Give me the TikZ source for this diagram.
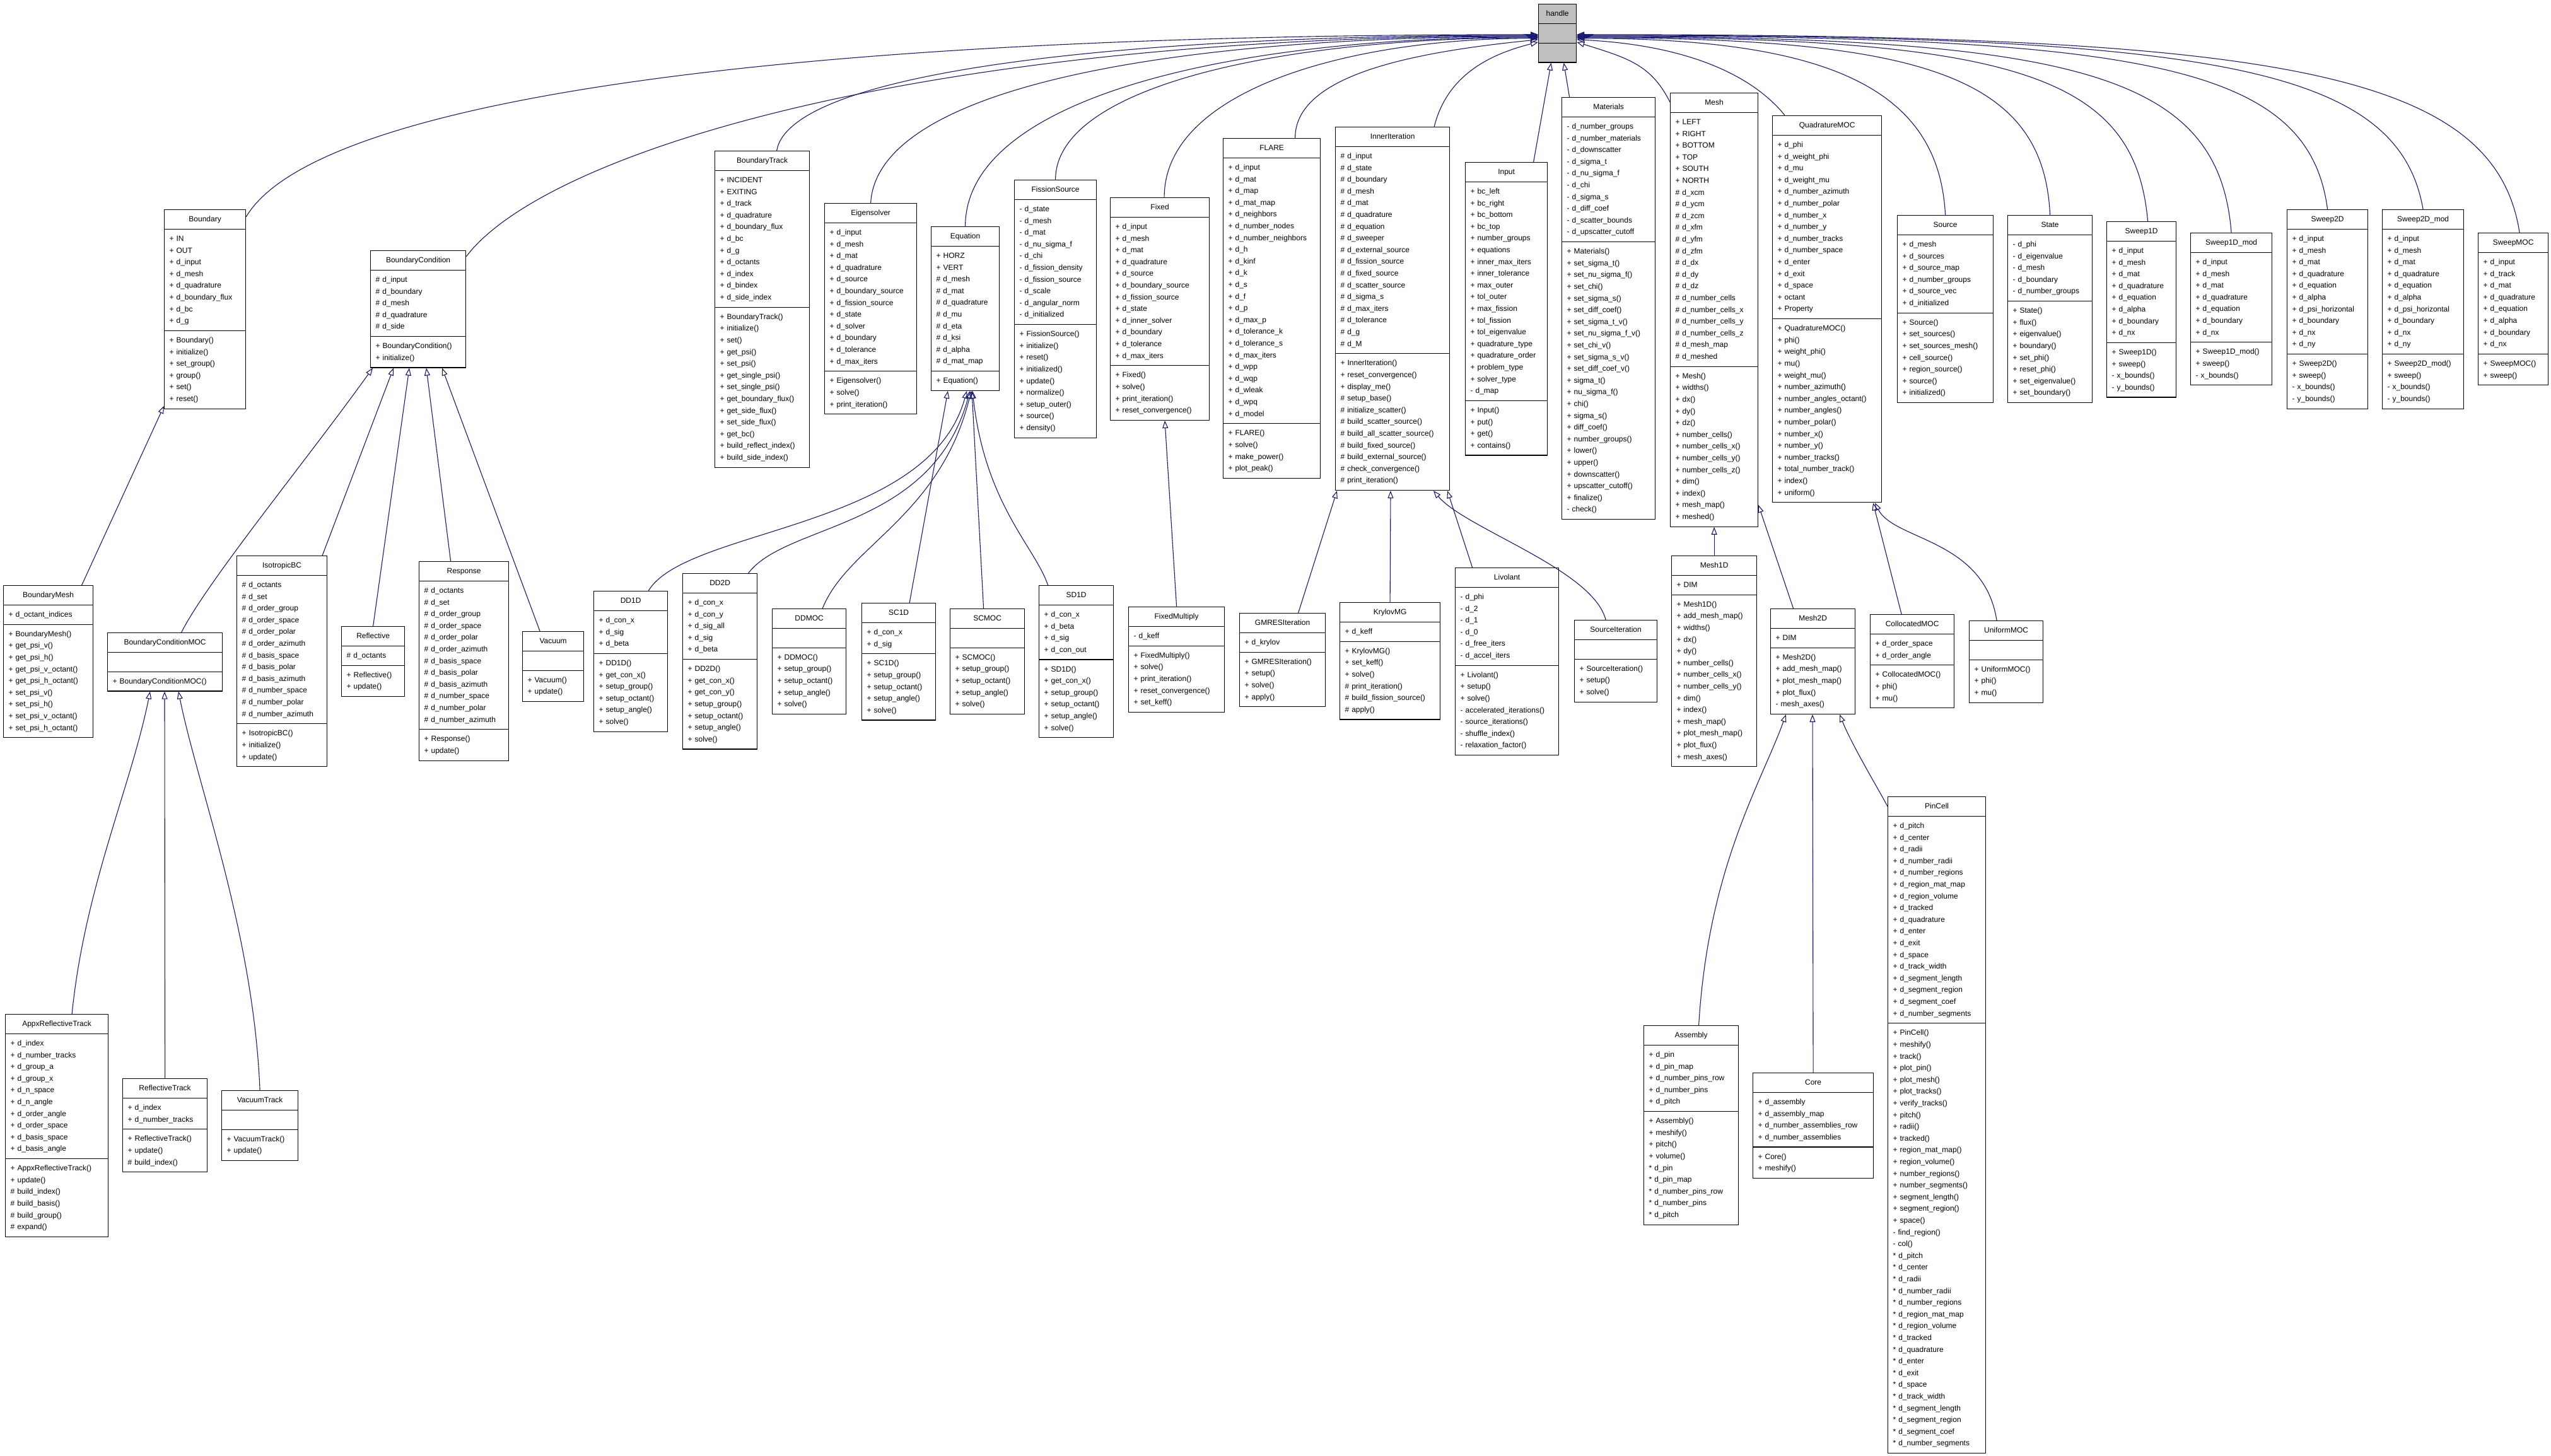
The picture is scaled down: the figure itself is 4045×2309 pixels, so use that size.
\documentclass[tikz,border=0pt]{standalone}
\usepackage{fontspec}
\setmainfont{Liberation Sans}
\usetikzlibrary{shapes.multipart,arrows.meta}
\definecolor{edge}{RGB}{25,25,112}
\definecolor{hgray}{RGB}{191,191,191}
\newcommand\Pp{+\ }
\newcommand\Pm{-\ }
\newcommand\Ph{\#\ }
\newcommand\Ps{*\ }
\newcommand\umlbox[8][]{%
  \pgfmathsetmacro\umltw{#5-16}%
  \node[cls,#1,text width=\umltw pt] (#2) at (#3,#4)
   {\strut\hspace*{\fill}#6\hspace*{\fill}\strut
    \nodepart{two}\strut#7\strut
    \nodepart{three}\strut#8\strut};}
\begin{document}
\catcode`\_=12
\begin{tikzpicture}[x=1pt,y=-1pt,
  cls/.style={draw,line width=1.2pt,fill=white,rectangle split,rectangle split parts=3,
    align=left,anchor=north west,inner xsep=8pt,inner ysep=5.5pt,
    font=\fontsize{12}{18.6}\selectfont},
  inh/.style={draw=edge,line width=1.1pt,-{Triangle[open,length=12pt,width=9pt]}}]
\useasboundingbox (0,0) rectangle (4045,2309);

\umlbox[fill=hgray]{handle}{2439}{6}{60}{handle}{}{}

\umlbox{Boundary}{260}{332}{129}{Boundary}{\Pp IN\\\Pp OUT\\\Pp d_input\\\Pp d_mesh\\\Pp d_quadrature\\\Pp d_boundary_flux\\\Pp d_bc\\\Pp d_g}{\Pp Boundary()\\\Pp initialize()\\\Pp set_group()\\\Pp group()\\\Pp set()\\\Pp reset()}
\umlbox{BCond}{587}{397}{151}{BoundaryCondition}{\Ph d_input\\\Ph d_boundary\\\Ph d_mesh\\\Ph d_quadrature\\\Ph d_side}{\Pp BoundaryCondition()\\\Pp initialize()}
\umlbox{BMesh}{5}{928}{142}{BoundaryMesh}{\Pp d_octant_indices}{\Pp BoundaryMesh()\\\Pp get_psi_v()\\\Pp get_psi_h()\\\Pp get_psi_v_octant()\\\Pp get_psi_h_octant()\\\Pp set_psi_v()\\\Pp set_psi_h()\\\Pp set_psi_v_octant()\\\Pp set_psi_h_octant()}
\umlbox{BCMOC}{170}{1003}{182}{BoundaryConditionMOC}{}{\Pp BoundaryConditionMOC()}
\umlbox{IsoBC}{375}{881}{143}{IsotropicBC}{\Ph d_octants\\\Ph d_set\\\Ph d_order_group\\\Ph d_order_space\\\Ph d_order_polar\\\Ph d_order_azimuth\\\Ph d_basis_space\\\Ph d_basis_polar\\\Ph d_basis_azimuth\\\Ph d_number_space\\\Ph d_number_polar\\\Ph d_number_azimuth}{\Pp IsotropicBC()\\\Pp initialize()\\\Pp update()}
\umlbox{Refl}{541}{993}{100}{Reflective}{\Ph d_octants}{\Pp Reflective()\\\Pp update()}
\umlbox{Resp}{664}{890}{142}{Response}{\Ph d_octants\\\Ph d_set\\\Ph d_order_group\\\Ph d_order_space\\\Ph d_order_polar\\\Ph d_order_azimuth\\\Ph d_basis_space\\\Ph d_basis_polar\\\Ph d_basis_azimuth\\\Ph d_number_space\\\Ph d_number_polar\\\Ph d_number_azimuth}{\Pp Response()\\\Pp update()}
\umlbox{Vac}{828}{1001}{97}{Vacuum}{}{\Pp Vacuum()\\\Pp update()}
\umlbox{Appx}{8}{1608}{163}{AppxReflectiveTrack}{\Pp d_index\\\Pp d_number_tracks\\\Pp d_group_a\\\Pp d_group_x\\\Pp d_n_space\\\Pp d_n_angle\\\Pp d_order_angle\\\Pp d_order_space\\\Pp d_basis_space\\\Pp d_basis_angle}{\Pp AppxReflectiveTrack()\\\Pp update()\\\Ph build_index()\\\Ph build_basis()\\\Ph build_group()\\\Ph expand()}
\umlbox{RefTr}{194}{1710}{134}{ReflectiveTrack}{\Pp d_index\\\Pp d_number_tracks}{\Pp ReflectiveTrack()\\\Pp update()\\\Ph build_index()}
\umlbox{VacTr}{351}{1729}{121}{VacuumTrack}{}{\Pp VacuumTrack()\\\Pp update()}

\umlbox{BTrack}{1133}{239}{150}{BoundaryTrack}{\Pp INCIDENT\\\Pp EXITING\\\Pp d_track\\\Pp d_quadrature\\\Pp d_boundary_flux\\\Pp d_bc\\\Pp d_g\\\Pp d_octants\\\Pp d_index\\\Pp d_bindex\\\Pp d_side_index}{\Pp BoundaryTrack()\\\Pp initialize()\\\Pp set()\\\Pp get_psi()\\\Pp set_psi()\\\Pp get_single_psi()\\\Pp set_single_psi()\\\Pp get_boundary_flux()\\\Pp get_side_flux()\\\Pp set_side_flux()\\\Pp get_bc()\\\Pp build_reflect_index()\\\Pp build_side_index()}
\umlbox{Eigen}{1307}{322}{146}{Eigensolver}{\Pp d_input\\\Pp d_mesh\\\Pp d_mat\\\Pp d_quadrature\\\Pp d_source\\\Pp d_boundary_source\\\Pp d_fission_source\\\Pp d_state\\\Pp d_solver\\\Pp d_boundary\\\Pp d_tolerance\\\Pp d_max_iters}{\Pp Eigensolver()\\\Pp solve()\\\Pp print_iteration()}
\umlbox{Equation}{1476}{359}{108}{Equation}{\Pp HORZ\\\Pp VERT\\\Ph d_mesh\\\Ph d_mat\\\Ph d_quadrature\\\Ph d_mu\\\Ph d_eta\\\Ph d_ksi\\\Ph d_alpha\\\Ph d_mat_map}{\Pp Equation()}
\umlbox{Fission}{1608}{285}{130}{FissionSource}{\Pm d_state\\\Pm d_mesh\\\Pm d_mat\\\Pm d_nu_sigma_f\\\Pm d_chi\\\Pm d_fission_density\\\Pm d_fission_source\\\Pm d_scale\\\Pm d_angular_norm\\\Pm d_initialized}{\Pp FissionSource()\\\Pp initialize()\\\Pp reset()\\\Pp initialized()\\\Pp update()\\\Pp normalize()\\\Pp setup_outer()\\\Pp source()\\\Pp density()}
\umlbox{Fixed}{1760}{313}{157}{Fixed}{\Pp d_input\\\Pp d_mesh\\\Pp d_mat\\\Pp d_quadrature\\\Pp d_source\\\Pp d_boundary_source\\\Pp d_fission_source\\\Pp d_state\\\Pp d_inner_solver\\\Pp d_boundary\\\Pp d_tolerance\\\Pp d_max_iters}{\Pp Fixed()\\\Pp solve()\\\Pp print_iteration()\\\Pp reset_convergence()}
\umlbox{DDoneD}{941}{937}{117}{DD1D}{\Pp d_con_x\\\Pp d_sig\\\Pp d_beta}{\Pp DD1D()\\\Pp get_con_x()\\\Pp setup_group()\\\Pp setup_octant()\\\Pp setup_angle()\\\Pp solve()}
\umlbox{DDtwoD}{1082}{909}{118}{DD2D}{\Pp d_con_x\\\Pp d_con_y\\\Pp d_sig_all\\\Pp d_sig\\\Pp d_beta}{\Pp DD2D()\\\Pp get_con_x()\\\Pp get_con_y()\\\Pp setup_group()\\\Pp setup_octant()\\\Pp setup_angle()\\\Pp solve()}
\umlbox{DDMOC}{1224}{965}{117}{DDMOC}{}{\Pp DDMOC()\\\Pp setup_group()\\\Pp setup_octant()\\\Pp setup_angle()\\\Pp solve()}
\umlbox{SConeD}{1366}{956}{117}{SC1D}{\Pp d_con_x\\\Pp d_sig}{\Pp SC1D()\\\Pp setup_group()\\\Pp setup_octant()\\\Pp setup_angle()\\\Pp solve()}
\umlbox{SCMOC}{1506}{965}{118}{SCMOC}{}{\Pp SCMOC()\\\Pp setup_group()\\\Pp setup_octant()\\\Pp setup_angle()\\\Pp solve()}
\umlbox{SDoneD}{1647}{928}{118}{SD1D}{\Pp d_con_x\\\Pp d_beta\\\Pp d_sig\\\Pp d_con_out}{\Pp SD1D()\\\Pp get_con_x()\\\Pp setup_group()\\\Pp setup_octant()\\\Pp setup_angle()\\\Pp solve()}
\umlbox{FixMul}{1789}{962}{152}{FixedMultiply}{\Pm d_keff}{\Pp FixedMultiply()\\\Pp solve()\\\Pp print_iteration()\\\Pp reset_convergence()\\\Pp set_keff()}

\umlbox{FLARE}{1939}{219}{154}{FLARE}{\Pp d_input\\\Pp d_mat\\\Pp d_map\\\Pp d_mat_map\\\Pp d_neighbors\\\Pp d_number_nodes\\\Pp d_number_neighbors\\\Pp d_h\\\Pp d_kinf\\\Pp d_k\\\Pp d_s\\\Pp d_f\\\Pp d_p\\\Pp d_max_p\\\Pp d_tolerance_k\\\Pp d_tolerance_s\\\Pp d_max_iters\\\Pp d_wpp\\\Pp d_wqp\\\Pp d_wleak\\\Pp d_wpq\\\Pp d_model}{\Pp FLARE()\\\Pp solve()\\\Pp make_power()\\\Pp plot_peak()}
\umlbox{Inner}{2117}{201}{181}{InnerIteration}{\Ph d_input\\\Ph d_state\\\Ph d_boundary\\\Ph d_mesh\\\Ph d_mat\\\Ph d_quadrature\\\Ph d_equation\\\Ph d_sweeper\\\Ph d_external_source\\\Ph d_fission_source\\\Ph d_fixed_source\\\Ph d_scatter_source\\\Ph d_sigma_s\\\Ph d_max_iters\\\Ph d_tolerance\\\Ph d_g\\\Ph d_M}{\Pp InnerIteration()\\\Pp reset_convergence()\\\Pp display_me()\\\Ph setup_base()\\\Ph initialize_scatter()\\\Ph build_scatter_source()\\\Ph build_all_scatter_source()\\\Ph build_fixed_source()\\\Ph build_external_source()\\\Ph check_convergence()\\\Ph print_iteration()}
\umlbox{Input}{2323}{257}{130}{Input}{\Pp bc_left\\\Pp bc_right\\\Pp bc_bottom\\\Pp bc_top\\\Pp number_groups\\\Pp equations\\\Pp inner_max_iters\\\Pp inner_tolerance\\\Pp max_outer\\\Pp tol_outer\\\Pp max_fission\\\Pp tol_fission\\\Pp tol_eigenvalue\\\Pp quadrature_type\\\Pp quadrature_order\\\Pp problem_type\\\Pp solver_type\\\Pm d_map}{\Pp Input()\\\Pp put()\\\Pp get()\\\Pp contains()}
\umlbox{Materials}{2476}{154}{148}{Materials}{\Pm d_number_groups\\\Pm d_number_materials\\\Pm d_downscatter\\\Pm d_sigma_t\\\Pm d_nu_sigma_f\\\Pm d_chi\\\Pm d_sigma_s\\\Pm d_diff_coef\\\Pm d_scatter_bounds\\\Pm d_upscatter_cutoff}{\Pp Materials()\\\Pp set_sigma_t()\\\Pp set_nu_sigma_f()\\\Pp set_chi()\\\Pp set_sigma_s()\\\Pp set_diff_coef()\\\Pp set_sigma_t_v()\\\Pp set_nu_sigma_f_v()\\\Pp set_chi_v()\\\Pp set_sigma_s_v()\\\Pp set_diff_coef_v()\\\Pp sigma_t()\\\Pp nu_sigma_f()\\\Pp chi()\\\Pp sigma_s()\\\Pp diff_coef()\\\Pp number_groups()\\\Pp lower()\\\Pp upper()\\\Pp downscatter()\\\Pp upscatter_cutoff()\\\Pp finalize()\\\Pm check()}
\umlbox{Mesh}{2648}{147}{139}{Mesh}{\Pp LEFT\\\Pp RIGHT\\\Pp BOTTOM\\\Pp TOP\\\Pp SOUTH\\\Pp NORTH\\\Ph d_xcm\\\Ph d_ycm\\\Ph d_zcm\\\Ph d_xfm\\\Ph d_yfm\\\Ph d_zfm\\\Ph d_dx\\\Ph d_dy\\\Ph d_dz\\\Ph d_number_cells\\\Ph d_number_cells_x\\\Ph d_number_cells_y\\\Ph d_number_cells_z\\\Ph d_mesh_map\\\Ph d_meshed}{\Pp Mesh()\\\Pp widths()\\\Pp dx()\\\Pp dy()\\\Pp dz()\\\Pp number_cells()\\\Pp number_cells_x()\\\Pp number_cells_y()\\\Pp number_cells_z()\\\Pp dim()\\\Pp index()\\\Pp mesh_map()\\\Pp meshed()}
\umlbox{GMRES}{1965}{972}{136}{GMRESIteration}{\Pp d_krylov}{\Pp GMRESIteration()\\\Pp setup()\\\Pp solve()\\\Pp apply()}
\umlbox{Krylov}{2124}{955}{159}{KrylovMG}{\Pp d_keff}{\Pp KrylovMG()\\\Pp set_keff()\\\Pp solve()\\\Ph print_iteration()\\\Ph build_fission_source()\\\Ph apply()}
\umlbox{Livolant}{2307}{900}{164}{Livolant}{\Pm d_phi\\\Pm d_2\\\Pm d_1\\\Pm d_0\\\Pm d_free_iters\\\Pm d_accel_iters}{\Pp Livolant()\\\Pp setup()\\\Pp solve()\\\Pm accelerated_iterations()\\\Pm source_iterations()\\\Pm shuffle_index()\\\Pm relaxation_factor()}
\umlbox{SrcIt}{2496}{983}{131}{SourceIteration}{}{\Pp SourceIteration()\\\Pp setup()\\\Pp solve()}
\umlbox{MeshoneD}{2650}{881}{135}{Mesh1D}{\Pp DIM}{\Pp Mesh1D()\\\Pp add_mesh_map()\\\Pp widths()\\\Pp dx()\\\Pp dy()\\\Pp number_cells()\\\Pp number_cells_x()\\\Pp number_cells_y()\\\Pp dim()\\\Pp index()\\\Pp mesh_map()\\\Pp plot_mesh_map()\\\Pp plot_flux()\\\Pp mesh_axes()}

\umlbox{Quad}{2810}{183}{173}{QuadratureMOC}{\Pp d_phi\\\Pp d_weight_phi\\\Pp d_mu\\\Pp d_weight_mu\\\Pp d_number_azimuth\\\Pp d_number_polar\\\Pp d_number_x\\\Pp d_number_y\\\Pp d_number_tracks\\\Pp d_number_space\\\Pp d_enter\\\Pp d_exit\\\Pp d_space\\\Pp octant\\\Pp Property}{\Pp QuadratureMOC()\\\Pp phi()\\\Pp weight_phi()\\\Pp mu()\\\Pp weight_mu()\\\Pp number_azimuth()\\\Pp number_angles_octant()\\\Pp number_angles()\\\Pp number_polar()\\\Pp number_x()\\\Pp number_y()\\\Pp number_tracks()\\\Pp total_number_track()\\\Pp index()\\\Pp uniform()}
\umlbox{Source}{3008}{341}{152}{Source}{\Pp d_mesh\\\Pp d_sources\\\Pp d_source_map\\\Pp d_number_groups\\\Pp d_source_vec\\\Pp d_initialized}{\Pp Source()\\\Pp set_sources()\\\Pp set_sources_mesh()\\\Pp cell_source()\\\Pp region_source()\\\Pp source()\\\Pp initialized()}
\umlbox{State}{3183}{341}{134}{State}{\Pm d_phi\\\Pm d_eigenvalue\\\Pm d_mesh\\\Pm d_boundary\\\Pm d_number_groups}{\Pp State()\\\Pp flux()\\\Pp eigenvalue()\\\Pp boundary()\\\Pp set_phi()\\\Pp reset_phi()\\\Pp set_eigenvalue()\\\Pp set_boundary()}
\umlbox{Swone}{3340}{351}{110}{Sweep1D}{\Pp d_input\\\Pp d_mesh\\\Pp d_mat\\\Pp d_quadrature\\\Pp d_equation\\\Pp d_alpha\\\Pp d_boundary\\\Pp d_nx}{\Pp Sweep1D()\\\Pp sweep()\\\Pm x_bounds()\\\Pm y_bounds()}
\umlbox{Swonem}{3473}{369}{129}{Sweep1D_mod}{\Pp d_input\\\Pp d_mesh\\\Pp d_mat\\\Pp d_quadrature\\\Pp d_equation\\\Pp d_boundary\\\Pp d_nx}{\Pp Sweep1D_mod()\\\Pp sweep()\\\Pm x_bounds()}
\umlbox{Swtwo}{3626}{332}{128}{Sweep2D}{\Pp d_input\\\Pp d_mesh\\\Pp d_mat\\\Pp d_quadrature\\\Pp d_equation\\\Pp d_alpha\\\Pp d_psi_horizontal\\\Pp d_boundary\\\Pp d_nx\\\Pp d_ny}{\Pp Sweep2D()\\\Pp sweep()\\\Pm x_bounds()\\\Pm y_bounds()}
\umlbox{Swtwom}{3777}{332}{129}{Sweep2D_mod}{\Pp d_input\\\Pp d_mesh\\\Pp d_mat\\\Pp d_quadrature\\\Pp d_equation\\\Pp d_alpha\\\Pp d_psi_horizontal\\\Pp d_boundary\\\Pp d_nx\\\Pp d_ny}{\Pp Sweep2D_mod()\\\Pp sweep()\\\Pm x_bounds()\\\Pm y_bounds()}
\umlbox{SwMOC}{3929}{369}{111}{SweepMOC}{\Pp d_input\\\Pp d_track\\\Pp d_mat\\\Pp d_quadrature\\\Pp d_equation\\\Pp d_alpha\\\Pp d_boundary\\\Pp d_nx}{\Pp SweepMOC()\\\Pp sweep()}
\umlbox{MeshtwoD}{2807}{965}{134}{Mesh2D}{\Pp DIM}{\Pp Mesh2D()\\\Pp add_mesh_map()\\\Pp plot_mesh_map()\\\Pp plot_flux()\\\Pm mesh_axes()}
\umlbox{Coll}{2965}{974}{133}{CollocatedMOC}{\Pp d_order_space\\\Pp d_order_angle}{\Pp CollocatedMOC()\\\Pp phi()\\\Pp mu()}
\umlbox{Unif}{3122}{984}{117}{UniformMOC}{}{\Pp UniformMOC()\\\Pp phi()\\\Pp mu()}
\umlbox{Assembly}{2606}{1626}{150}{Assembly}{\Pp d_pin\\\Pp d_pin_map\\\Pp d_number_pins_row\\\Pp d_number_pins\\\Pp d_pitch}{\Pp Assembly()\\\Pp meshify()\\\Pp pitch()\\\Pp volume()\\\Ps d_pin\\\Ps d_pin_map\\\Ps d_number_pins_row\\\Ps d_number_pins\\\Ps d_pitch}
\umlbox{Core}{2779}{1701}{191}{Core}{\Pp d_assembly\\\Pp d_assembly_map\\\Pp d_number_assemblies_row\\\Pp d_number_assemblies}{\Pp Core()\\\Pp meshify()}
\umlbox{PinCell}{2993}{1263}{155}{PinCell}{\Pp d_pitch\\\Pp d_center\\\Pp d_radii\\\Pp d_number_radii\\\Pp d_number_regions\\\Pp d_region_mat_map\\\Pp d_region_volume\\\Pp d_tracked\\\Pp d_quadrature\\\Pp d_enter\\\Pp d_exit\\\Pp d_space\\\Pp d_track_width\\\Pp d_segment_length\\\Pp d_segment_region\\\Pp d_segment_coef\\\Pp d_number_segments}{\Pp PinCell()\\\Pp meshify()\\\Pp track()\\\Pp plot_pin()\\\Pp plot_mesh()\\\Pp plot_tracks()\\\Pp verify_tracks()\\\Pp pitch()\\\Pp radii()\\\Pp tracked()\\\Pp region_mat_map()\\\Pp region_volume()\\\Pp number_regions()\\\Pp number_segments()\\\Pp segment_length()\\\Pp segment_region()\\\Pp space()\\\Pm find_region()\\\Pm col()\\\Ps d_pitch\\\Ps d_center\\\Ps d_radii\\\Ps d_number_radii\\\Ps d_number_regions\\\Ps d_region_mat_map\\\Ps d_region_volume\\\Ps d_tracked\\\Ps d_quadrature\\\Ps d_enter\\\Ps d_exit\\\Ps d_space\\\Ps d_track_width\\\Ps d_segment_length\\\Ps d_segment_region\\\Ps d_segment_coef\\\Ps d_number_segments}

% --- inheritance to handle (left side)
\draw[inh] ([yshift=-12pt]Boundary.north east) .. controls +(100,-170) and +(-1300,0) .. ([yshift=-2pt]handle.west);
\draw[inh] ([yshift=-10pt]BCond.north east) .. controls +(120,-160) and +(-1000,0) .. ([yshift=-4pt]handle.west);
\draw[inh] ([xshift=23pt]BTrack.north) .. controls +(20,-120) and +(-700,0) .. ([yshift=-3pt]handle.west);
\draw[inh] (Eigen.north) .. controls +(10,-180) and +(-600,0) .. ([yshift=-5pt]handle.west);
\draw[inh] (Equation.north) .. controls +(0,-200) and +(-500,0) .. ([yshift=-6pt]handle.west);
\draw[inh] (Fission.north) .. controls +(0,-150) and +(-400,0) .. ([yshift=-7pt]handle.west);
\draw[inh] ([xshift=7pt]Fixed.north) .. controls +(0,-170) and +(-300,0) .. ([yshift=-8pt]handle.west);
\draw[inh] ([xshift=37pt]FLARE.north) .. controls +(0,-100) and +(-200,20) .. ([yshift=-10pt]handle.west);
\draw[inh] ([xshift=66pt]Inner.north) .. controls +(20,-80) and +(-80,20) .. ([yshift=-14pt]handle.west);
\draw[inh] ([xshift=43pt]Input.north) -- ([xshift=-10pt]handle.south);
\draw[inh] ([xshift=-62pt]Materials.north) -- ([xshift=10pt]handle.south);
% --- inheritance to handle (right side)
\draw[inh] ([yshift=-15pt]Mesh.north west) .. controls +(-30,-60) and +(80,25) .. ([yshift=-14pt]handle.east);
\draw[inh] ([xshift=-67pt]Quad.north) .. controls +(-40,-50) and +(200,10) .. ([yshift=-10pt]handle.east);
\draw[inh] (Source.north) .. controls +(-10,-200) and +(400,0) .. ([yshift=-8pt]handle.east);
\draw[inh] (State.north) .. controls +(-10,-220) and +(550,0) .. ([yshift=-7pt]handle.east);
\draw[inh] ([xshift=10pt]Swone.north) .. controls +(-20,-230) and +(700,0) .. ([yshift=-6pt]handle.east);
\draw[inh] (Swonem.north) .. controls +(-20,-250) and +(800,0) .. ([yshift=-5pt]handle.east);
\draw[inh] (Swtwo.north) .. controls +(-30,-230) and +(900,0) .. ([yshift=-4pt]handle.east);
\draw[inh] (Swtwom.north) .. controls +(-40,-230) and +(1000,0) .. ([yshift=-3pt]handle.east);
\draw[inh] ([xshift=10pt]SwMOC.north) .. controls +(-40,-260) and +(1100,0) .. ([yshift=-2pt]handle.east);

% --- boundary family
\draw[inh] ([xshift=53pt]BMesh.north) -- ([yshift=5pt]Boundary.south west);
\draw[inh] ([xshift=26pt]BCMOC.north) .. controls +(40,-80) and +(-100,140) .. ([xshift=4pt]BCond.south west);
\draw[inh] ([xshift=64pt]IsoBC.north) -- ([xshift=37pt]BCond.south west);
\draw[inh] (Refl.north) -- ([xshift=62pt]BCond.south west);
\draw[inh] ([xshift=-21pt]Resp.north) -- ([xshift=89pt]BCond.south west);
\draw[inh] ([xshift=-21pt]Vac.north) -- ([xshift=114pt]BCond.south west);
\draw[inh] ([xshift=24pt]Appx.north) .. controls +(20,-200) and +(-30,150) .. ([xshift=68pt]BCMOC.south west);
\draw[inh] (RefTr.north) -- ([xshift=91pt]BCMOC.south west);
\draw[inh] (VacTr.north) .. controls +(-10,-250) and +(30,150) .. ([xshift=113pt]BCMOC.south west);

% --- equation family
\draw[inh] ([xshift=17pt]SConeD.north) -- ([xshift=27pt]Equation.south west);
\draw[inh] ([xshift=28pt]DDoneD.north) .. controls +(60,-100) and +(-60,220) .. ([xshift=57pt]Equation.south west);
\draw[inh] ([xshift=45pt]DDtwoD.north) .. controls +(60,-80) and +(-60,220) .. ([xshift=62pt]Equation.south west);
\draw[inh] ([xshift=21pt]DDMOC.north) .. controls +(40,-100) and +(-50,200) .. ([xshift=64pt]Equation.south west);
\draw[inh] ([xshift=-6pt]SCMOC.north) -- ([xshift=65pt]Equation.south west);
\draw[inh] ([xshift=-45pt]SDoneD.north) .. controls +(-20,-60) and +(20,180) .. ([xshift=66pt]Equation.south west);
\draw[inh] (FixMul.north) -- ([xshift=87pt]Fixed.south west);

% --- inner iteration family
\draw[inh] ([xshift=25pt]GMRES.north) -- ([xshift=3pt]Inner.south west);
\draw[inh] (Krylov.north) -- ([xshift=88pt]Inner.south west);
\draw[inh] ([xshift=-55pt]Livolant.north) -- ([xshift=178pt]Inner.south west);
\draw[inh] ([xshift=-16pt]SrcIt.north) .. controls +(-20,-80) and +(50,60) .. ([xshift=156pt]Inner.south west);

% --- mesh family
\draw[inh] (MeshoneD.north) -- (Mesh.south);
\draw[inh] ([xshift=-31pt]MeshtwoD.north) -- ([yshift=35pt]Mesh.south east);
\draw[inh] ([xshift=12pt]Assembly.north) .. controls +(15,-250) and +(-40,110) .. ([xshift=25pt]MeshtwoD.south west);
\draw[inh] (Core.north) -- ([xshift=67pt]MeshtwoD.south west);
\draw[inh] ([yshift=-16pt]PinCell.north west) .. controls +(-10,-20) and +(20,50) .. ([xshift=110pt]MeshtwoD.south west);

% --- quadrature family
\draw[inh] ([xshift=-17pt]Coll.north) -- ([xshift=160pt]Quad.south west);
\draw[inh] ([xshift=-15pt]Unif.north) .. controls +(-20,-130) and +(30,60) .. ([xshift=163pt]Quad.south west);
\end{tikzpicture}
\end{document}
